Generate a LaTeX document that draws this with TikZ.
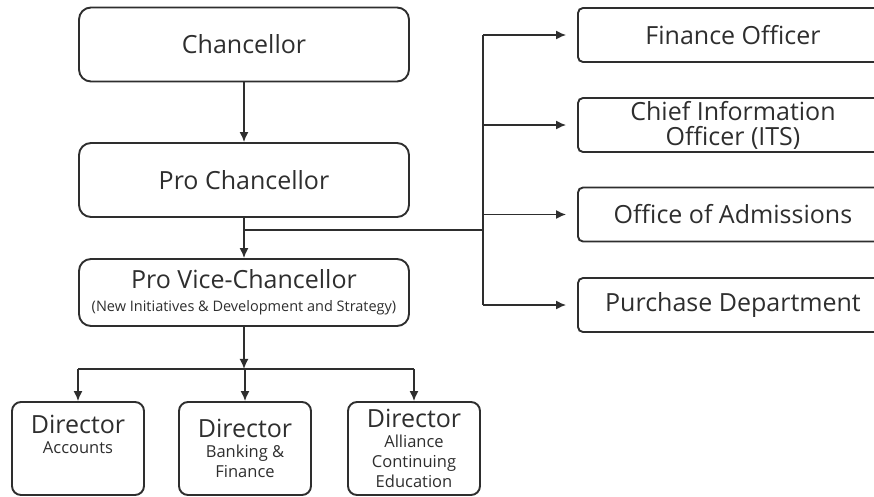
\documentclass[tikz,border=0pt]{standalone}
\usepackage{fontspec}
\setmainfont{Open Sans}
\usetikzlibrary{arrows.meta, calc, positioning}
\definecolor{ink}{HTML}{2E2E2E}
\tikzset{
  post/.style={draw=ink, line width=1.9pt, text=ink, align=center, inner sep=2pt},
  bigbox/.style={post, rounded corners=12pt, minimum width=330pt, minimum height=74pt, font=\fontsize{25}{27}\selectfont},
  sidebox/.style={post, rounded corners=5pt, minimum width=310pt, minimum height=54pt, font=\fontsize{25}{25}\selectfont},
  dirbox/.style={post, rounded corners=9pt, minimum width=132pt, minimum height=93pt, font=\fontsize{16.5}{20}\selectfont},
  link/.style={draw=ink, line width=1.5pt},
}

\begin{document}
\begin{tikzpicture}[>={Latex[length=10pt,width=9pt]}, x=1pt, y=-1pt]
  \clip (0,0) rectangle (874,496);
  \node[bigbox] (chan) at (244,44.5) {Chancellor};
  \node[bigbox] (pro) at (244,180) {Pro Chancellor};
  \node[bigbox, minimum height=67pt] (pvc) at (244,292.5) {Pro Vice-Chancellor\\[-4pt]{\fontsize{14.5}{16}\selectfont (New Initiatives \& Development and Strategy)}};

  \foreach \y/\name/\label in {35/fin/{Finance Officer}, 125/cio/{Chief Information\\Officer (ITS)}, 214.5/adm/{Office of Admissions}, 305/pur/{Purchase Department}} {
    \node[sidebox] (\name) at (733,\y) {\label};
  }

  \foreach \x/\name/\label in {78/acc/{Accounts\\[8pt]}, 245/bank/{Banking \&\\Finance}, 414/ace/{Alliance\\Continuing\\Education}} {
    \node[dirbox] (\name) at (\x,448.5) {{\fontsize{25}{26}\selectfont Director}\\\label};
  }

  \draw[link, ->] (chan) -- (pro);
  \draw[link, ->] (pro) -- (pvc);

  % branch to the offices on the right
  \coordinate (split) at ($(pro.south)+(0,12)$);
  \coordinate (bus) at (483,0);
  \draw[link] (split) -- (bus |- split);
  \draw[link] (bus |- fin) -- (bus |- pur);
  \foreach \name in {fin, cio, adm, pur} {
    \draw[link, ->, shorten >=11pt] (bus |- \name) -- (\name.west);
  }

  % directors
  \coordinate (hub) at ($(pvc.south)+(0,42)$);
  \draw[link, ->] (pvc) -- (hub);
  \draw[link] (hub -| acc) -- (hub -| ace);
  \foreach \name in {acc, bank, ace} {
    \draw[link, ->] (hub -| \name) -- (\name);
  }
\end{tikzpicture}
\end{document}
